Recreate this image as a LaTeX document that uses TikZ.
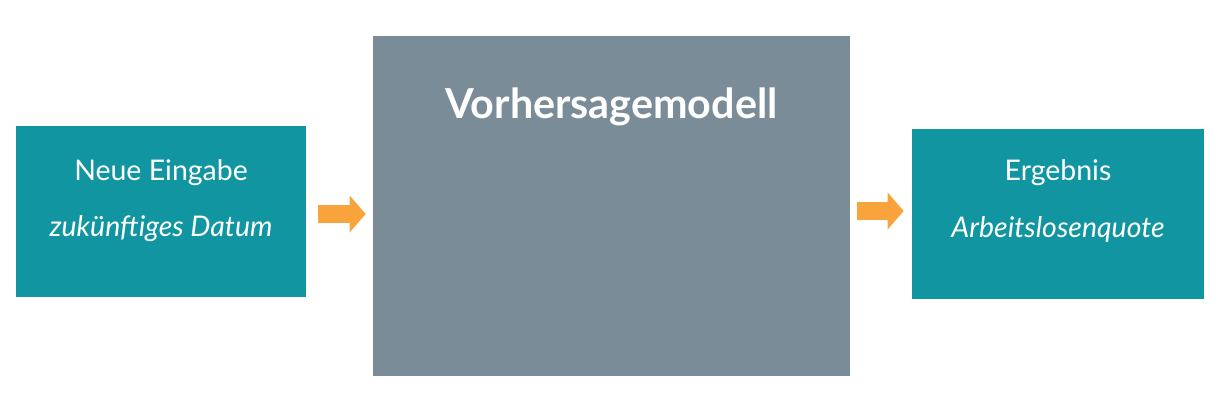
\documentclass[tikz,border=0pt]{standalone}
\usepackage{fontspec}
\setmainfont{Lato}
\usetikzlibrary{arrows.meta}
\definecolor{tealbox}{RGB}{17,150,161}
\definecolor{modelgray}{RGB}{121,140,152}
\definecolor{arroworange}{RGB}{249,163,60}
\tikzstyle{iobox} = [rectangle, minimum width=5.8cm, minimum height=3.42cm, inner sep=0pt, fill=tealbox]
\tikzstyle{modelbox} = [rectangle, minimum width=9.54cm, minimum height=6.8cm, inner sep=0pt, fill=modelgray]
\tikzstyle{boxlabel} = [anchor=base, inner sep=0pt, text=white, font=\fontsize{16.2}{19}\selectfont]
\tikzstyle{modellabel} = [anchor=base, inner sep=0pt, text=white, font=\fontsize{23.5}{28}\selectfont\bfseries]

\begin{document}
\begin{tikzpicture}[x=0.02cm, y=-0.02cm]
    \tikzset{blockptr/.style={draw=arroworange, line width=0.36cm, -{Triangle[length=0.32cm,width=0.72cm]}}}
\useasboundingbox (0,0) rectangle (1220,411);
\node (input) [iobox] at (161,211.5) {};
\node (model) [modelbox] at (611.5,206) {};
\node (output) [iobox, minimum width=5.84cm, minimum height=3.4cm] at (1058,214) {};

\node (inputtitle) [boxlabel] at ([yshift=-1.1cm]input.north) {Neue Eingabe};
\node (inputvalue) [boxlabel] at ([yshift=-2.22cm]input.north) {\itshape zukünftiges Datum};
\node (modeltitle) [modellabel] at ([yshift=-1.65cm]model.north) {Vorhersagemodell};
\node (outputtitle) [boxlabel] at ([yshift=-1.04cm]output.north) {Ergebnis};
\node (outputvalue) [boxlabel] at ([yshift=-2.17cm]output.north) {\itshape Arbeitslosenquote};

\draw [blockptr, shorten <=0.24cm, shorten >=0.14cm] ([yshift=-0.05cm]input.east) -- ([yshift=-0.05cm]input.east -| model.west);
\draw [blockptr, shorten <=0.14cm, shorten >=0.16cm] ([yshift=0.06cm]output.west -| model.east) -- ([yshift=0.06cm]output.west);
\end{tikzpicture}
\end{document}
